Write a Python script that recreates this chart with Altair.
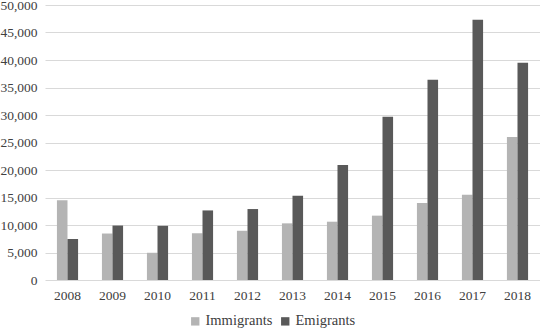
import altair as alt
import pandas as pd

years = ["2008", "2009", "2010", "2011", "2012", "2013", "2014", "2015", "2016", "2017", "2018"]
immigrants = [14500, 8450, 4950, 8500, 8950, 10300, 10600, 11700, 14000, 15500, 26000]
emigrants = [7450, 9900, 9850, 12650, 12900, 15300, 20900, 29700, 36400, 47300, 39500]
series = ["Immigrants", "Emigrants"]
colors = ["#b4b4b4", "#595959"]

rows = []
for i, y in enumerate(years):
    rows.append({"year": y, "series": "Immigrants", "value": immigrants[i]})
    rows.append({"year": y, "series": "Emigrants", "value": emigrants[i]})
df = pd.DataFrame(rows)

font = "Liberation Serif"

chart = alt.Chart(df).mark_bar().encode(
    x=alt.X("year:N", sort=years, title=None,
            scale=alt.Scale(paddingInner=0.53, paddingOuter=0.265),
            axis=alt.Axis(labelAngle=0, domain=False, ticks=False, labelPadding=8,
                          labelFontSize=13.5, labelColor="#404040")),
    xOffset=alt.XOffset("series:N", sort=series, scale=alt.Scale(paddingInner=0)),
    y=alt.Y("value:Q", title=None,
            scale=alt.Scale(domain=[0, 50000], nice=False),
            axis=alt.Axis(values=list(range(0, 50001, 5000)), format=",.0f", domain=False, ticks=False,
                          labelPadding=8, labelFontSize=13.5, labelColor="#404040",
                          gridColor="#d9d9d9", gridWidth=1.2)),
    color=alt.Color("series:N", sort=series, title=None,
                    scale=alt.Scale(domain=series, range=colors),
                    legend=alt.Legend(orient="none", direction="horizontal", legendX=143, legendY=309,
                                      symbolType="square", symbolSize=70, symbolStrokeWidth=0,
                                      labelFontSize=14.5, labelColor="#404040",
                                      columnPadding=5, labelOffset=3)),
).properties(
    width=495, height=275,
    autosize=alt.AutoSizeParams(type="none"),
    padding={"left": 45, "top": 5, "right": 0, "bottom": 50},
).configure(background="white", font=font).configure_view(stroke=None).configure_axis(
    labelFont=font).configure_legend(labelFont=font)

chart.save("out.html", embed_options={"renderer": "svg", "actions": False})
